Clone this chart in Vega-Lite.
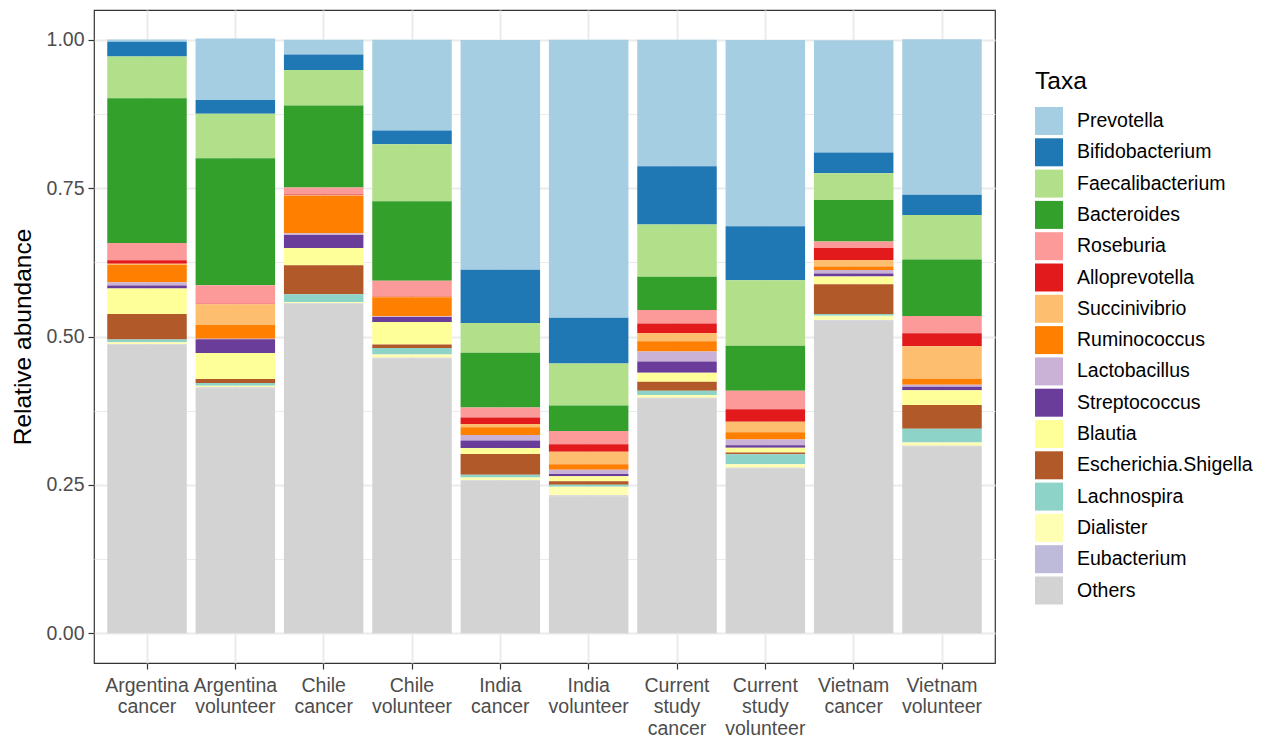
{
  "$schema": "https://vega.github.io/schema/vega-lite/v6.json",
  "width": 901,
  "height": 653,
  "autosize": {"type": "none"},
  "padding": {"left": 94, "top": 10, "right": 274, "bottom": 75},
  "background": "white",
  "config": {
    "font": "Liberation Sans",
    "view": {"stroke": "#333333", "strokeWidth": 1.2}
  },
  "data": {
    "values": [
      {"s": "Argentina cancer", "t": "Prevotella", "v": 0.004},
      {"s": "Argentina cancer", "t": "Bifidobacterium", "v": 0.025},
      {"s": "Argentina cancer", "t": "Faecalibacterium", "v": 0.070},
      {"s": "Argentina cancer", "t": "Bacteroides", "v": 0.244},
      {"s": "Argentina cancer", "t": "Roseburia", "v": 0.029},
      {"s": "Argentina cancer", "t": "Alloprevotella", "v": 0.006},
      {"s": "Argentina cancer", "t": "Succinivibrio", "v": 0.002},
      {"s": "Argentina cancer", "t": "Ruminococcus", "v": 0.029},
      {"s": "Argentina cancer", "t": "Lactobacillus", "v": 0.0056},
      {"s": "Argentina cancer", "t": "Streptococcus", "v": 0.005},
      {"s": "Argentina cancer", "t": "Blautia", "v": 0.043},
      {"s": "Argentina cancer", "t": "Escherichia.Shigella", "v": 0.043},
      {"s": "Argentina cancer", "t": "Lachnospira", "v": 0.0045},
      {"s": "Argentina cancer", "t": "Dialister", "v": 0.0034},
      {"s": "Argentina cancer", "t": "Eubacterium", "v": 0.001},
      {"s": "Argentina cancer", "t": "Others", "v": 0.486},

      {"s": "Argentina volunteer", "t": "Prevotella", "v": 0.104},
      {"s": "Argentina volunteer", "t": "Bifidobacterium", "v": 0.023},
      {"s": "Argentina volunteer", "t": "Faecalibacterium", "v": 0.075},
      {"s": "Argentina volunteer", "t": "Bacteroides", "v": 0.214},
      {"s": "Argentina volunteer", "t": "Roseburia", "v": 0.031},
      {"s": "Argentina volunteer", "t": "Alloprevotella", "v": 0.001},
      {"s": "Argentina volunteer", "t": "Succinivibrio", "v": 0.035},
      {"s": "Argentina volunteer", "t": "Ruminococcus", "v": 0.023},
      {"s": "Argentina volunteer", "t": "Lactobacillus", "v": 0.001},
      {"s": "Argentina volunteer", "t": "Streptococcus", "v": 0.023},
      {"s": "Argentina volunteer", "t": "Blautia", "v": 0.044},
      {"s": "Argentina volunteer", "t": "Escherichia.Shigella", "v": 0.0067},
      {"s": "Argentina volunteer", "t": "Lachnospira", "v": 0.0045},
      {"s": "Argentina volunteer", "t": "Dialister", "v": 0.003},
      {"s": "Argentina volunteer", "t": "Eubacterium", "v": 0.001},
      {"s": "Argentina volunteer", "t": "Others", "v": 0.413},

      {"s": "Chile cancer", "t": "Prevotella", "v": 0.025},
      {"s": "Chile cancer", "t": "Bifidobacterium", "v": 0.026},
      {"s": "Chile cancer", "t": "Faecalibacterium", "v": 0.060},
      {"s": "Chile cancer", "t": "Bacteroides", "v": 0.138},
      {"s": "Chile cancer", "t": "Roseburia", "v": 0.012},
      {"s": "Chile cancer", "t": "Alloprevotella", "v": 0.001},
      {"s": "Chile cancer", "t": "Succinivibrio", "v": 0.001},
      {"s": "Chile cancer", "t": "Ruminococcus", "v": 0.063},
      {"s": "Chile cancer", "t": "Lactobacillus", "v": 0.003},
      {"s": "Chile cancer", "t": "Streptococcus", "v": 0.022},
      {"s": "Chile cancer", "t": "Blautia", "v": 0.029},
      {"s": "Chile cancer", "t": "Escherichia.Shigella", "v": 0.049},
      {"s": "Chile cancer", "t": "Lachnospira", "v": 0.013},
      {"s": "Chile cancer", "t": "Dialister", "v": 0.002},
      {"s": "Chile cancer", "t": "Eubacterium", "v": 0.001},
      {"s": "Chile cancer", "t": "Others", "v": 0.555},

      {"s": "Chile volunteer", "t": "Prevotella", "v": 0.153},
      {"s": "Chile volunteer", "t": "Bifidobacterium", "v": 0.023},
      {"s": "Chile volunteer", "t": "Faecalibacterium", "v": 0.096},
      {"s": "Chile volunteer", "t": "Bacteroides", "v": 0.134},
      {"s": "Chile volunteer", "t": "Roseburia", "v": 0.026},
      {"s": "Chile volunteer", "t": "Alloprevotella", "v": 0.001},
      {"s": "Chile volunteer", "t": "Succinivibrio", "v": 0.001},
      {"s": "Chile volunteer", "t": "Ruminococcus", "v": 0.032},
      {"s": "Chile volunteer", "t": "Lactobacillus", "v": 0.001},
      {"s": "Chile volunteer", "t": "Streptococcus", "v": 0.0084},
      {"s": "Chile volunteer", "t": "Blautia", "v": 0.038},
      {"s": "Chile volunteer", "t": "Escherichia.Shigella", "v": 0.006},
      {"s": "Chile volunteer", "t": "Lachnospira", "v": 0.011},
      {"s": "Chile volunteer", "t": "Dialister", "v": 0.0056},
      {"s": "Chile volunteer", "t": "Eubacterium", "v": 0.001},
      {"s": "Chile volunteer", "t": "Others", "v": 0.463},

      {"s": "India cancer", "t": "Prevotella", "v": 0.387},
      {"s": "India cancer", "t": "Bifidobacterium", "v": 0.090},
      {"s": "India cancer", "t": "Faecalibacterium", "v": 0.050},
      {"s": "India cancer", "t": "Bacteroides", "v": 0.092},
      {"s": "India cancer", "t": "Roseburia", "v": 0.017},
      {"s": "India cancer", "t": "Alloprevotella", "v": 0.011},
      {"s": "India cancer", "t": "Succinivibrio", "v": 0.0056},
      {"s": "India cancer", "t": "Ruminococcus", "v": 0.013},
      {"s": "India cancer", "t": "Lactobacillus", "v": 0.009},
      {"s": "India cancer", "t": "Streptococcus", "v": 0.013},
      {"s": "India cancer", "t": "Blautia", "v": 0.010},
      {"s": "India cancer", "t": "Escherichia.Shigella", "v": 0.035},
      {"s": "India cancer", "t": "Lachnospira", "v": 0.0045},
      {"s": "India cancer", "t": "Dialister", "v": 0.0045},
      {"s": "India cancer", "t": "Eubacterium", "v": 0.001},
      {"s": "India cancer", "t": "Others", "v": 0.257},

      {"s": "India volunteer", "t": "Prevotella", "v": 0.468},
      {"s": "India volunteer", "t": "Bifidobacterium", "v": 0.077},
      {"s": "India volunteer", "t": "Faecalibacterium", "v": 0.071},
      {"s": "India volunteer", "t": "Bacteroides", "v": 0.043},
      {"s": "India volunteer", "t": "Roseburia", "v": 0.022},
      {"s": "India volunteer", "t": "Alloprevotella", "v": 0.013},
      {"s": "India volunteer", "t": "Succinivibrio", "v": 0.021},
      {"s": "India volunteer", "t": "Ruminococcus", "v": 0.009},
      {"s": "India volunteer", "t": "Lactobacillus", "v": 0.0073},
      {"s": "India volunteer", "t": "Streptococcus", "v": 0.004},
      {"s": "India volunteer", "t": "Blautia", "v": 0.0084},
      {"s": "India volunteer", "t": "Escherichia.Shigella", "v": 0.0056},
      {"s": "India volunteer", "t": "Lachnospira", "v": 0.0034},
      {"s": "India volunteer", "t": "Dialister", "v": 0.015},
      {"s": "India volunteer", "t": "Eubacterium", "v": 0.001},
      {"s": "India volunteer", "t": "Others", "v": 0.231},

      {"s": "Current study cancer", "t": "Prevotella", "v": 0.213},
      {"s": "Current study cancer", "t": "Bifidobacterium", "v": 0.098},
      {"s": "Current study cancer", "t": "Faecalibacterium", "v": 0.088},
      {"s": "Current study cancer", "t": "Bacteroides", "v": 0.056},
      {"s": "Current study cancer", "t": "Roseburia", "v": 0.023},
      {"s": "Current study cancer", "t": "Alloprevotella", "v": 0.016},
      {"s": "Current study cancer", "t": "Succinivibrio", "v": 0.014},
      {"s": "Current study cancer", "t": "Ruminococcus", "v": 0.017},
      {"s": "Current study cancer", "t": "Lactobacillus", "v": 0.017},
      {"s": "Current study cancer", "t": "Streptococcus", "v": 0.019},
      {"s": "Current study cancer", "t": "Blautia", "v": 0.015},
      {"s": "Current study cancer", "t": "Escherichia.Shigella", "v": 0.015},
      {"s": "Current study cancer", "t": "Lachnospira", "v": 0.0073},
      {"s": "Current study cancer", "t": "Dialister", "v": 0.0045},
      {"s": "Current study cancer", "t": "Eubacterium", "v": 0.001},
      {"s": "Current study cancer", "t": "Others", "v": 0.396},

      {"s": "Current study volunteer", "t": "Prevotella", "v": 0.314},
      {"s": "Current study volunteer", "t": "Bifidobacterium", "v": 0.091},
      {"s": "Current study volunteer", "t": "Faecalibacterium", "v": 0.110},
      {"s": "Current study volunteer", "t": "Bacteroides", "v": 0.076},
      {"s": "Current study volunteer", "t": "Roseburia", "v": 0.031},
      {"s": "Current study volunteer", "t": "Alloprevotella", "v": 0.021},
      {"s": "Current study volunteer", "t": "Succinivibrio", "v": 0.018},
      {"s": "Current study volunteer", "t": "Ruminococcus", "v": 0.012},
      {"s": "Current study volunteer", "t": "Lactobacillus", "v": 0.010},
      {"s": "Current study volunteer", "t": "Streptococcus", "v": 0.004},
      {"s": "Current study volunteer", "t": "Blautia", "v": 0.008},
      {"s": "Current study volunteer", "t": "Escherichia.Shigella", "v": 0.003},
      {"s": "Current study volunteer", "t": "Lachnospira", "v": 0.017},
      {"s": "Current study volunteer", "t": "Dialister", "v": 0.0056},
      {"s": "Current study volunteer", "t": "Eubacterium", "v": 0.001},
      {"s": "Current study volunteer", "t": "Others", "v": 0.278},

      {"s": "Vietnam cancer", "t": "Prevotella", "v": 0.189},
      {"s": "Vietnam cancer", "t": "Bifidobacterium", "v": 0.035},
      {"s": "Vietnam cancer", "t": "Faecalibacterium", "v": 0.045},
      {"s": "Vietnam cancer", "t": "Bacteroides", "v": 0.070},
      {"s": "Vietnam cancer", "t": "Roseburia", "v": 0.011},
      {"s": "Vietnam cancer", "t": "Alloprevotella", "v": 0.020},
      {"s": "Vietnam cancer", "t": "Succinivibrio", "v": 0.011},
      {"s": "Vietnam cancer", "t": "Ruminococcus", "v": 0.006},
      {"s": "Vietnam cancer", "t": "Lactobacillus", "v": 0.006},
      {"s": "Vietnam cancer", "t": "Streptococcus", "v": 0.005},
      {"s": "Vietnam cancer", "t": "Blautia", "v": 0.013},
      {"s": "Vietnam cancer", "t": "Escherichia.Shigella", "v": 0.050},
      {"s": "Vietnam cancer", "t": "Lachnospira", "v": 0.003},
      {"s": "Vietnam cancer", "t": "Dialister", "v": 0.007},
      {"s": "Vietnam cancer", "t": "Eubacterium", "v": 0.001},
      {"s": "Vietnam cancer", "t": "Others", "v": 0.527},

      {"s": "Vietnam volunteer", "t": "Prevotella", "v": 0.262},
      {"s": "Vietnam volunteer", "t": "Bifidobacterium", "v": 0.034},
      {"s": "Vietnam volunteer", "t": "Faecalibacterium", "v": 0.075},
      {"s": "Vietnam volunteer", "t": "Bacteroides", "v": 0.095},
      {"s": "Vietnam volunteer", "t": "Roseburia", "v": 0.029},
      {"s": "Vietnam volunteer", "t": "Alloprevotella", "v": 0.022},
      {"s": "Vietnam volunteer", "t": "Succinivibrio", "v": 0.055},
      {"s": "Vietnam volunteer", "t": "Ruminococcus", "v": 0.010},
      {"s": "Vietnam volunteer", "t": "Lactobacillus", "v": 0.0034},
      {"s": "Vietnam volunteer", "t": "Streptococcus", "v": 0.0056},
      {"s": "Vietnam volunteer", "t": "Blautia", "v": 0.025},
      {"s": "Vietnam volunteer", "t": "Escherichia.Shigella", "v": 0.040},
      {"s": "Vietnam volunteer", "t": "Lachnospira", "v": 0.023},
      {"s": "Vietnam volunteer", "t": "Dialister", "v": 0.0056},
      {"s": "Vietnam volunteer", "t": "Eubacterium", "v": 0.001},
      {"s": "Vietnam volunteer", "t": "Others", "v": 0.315}
    ]
  },
  "transform": [
    {"calculate": "indexof(['Prevotella','Bifidobacterium','Faecalibacterium','Bacteroides','Roseburia','Alloprevotella','Succinivibrio','Ruminococcus','Lactobacillus','Streptococcus','Blautia','Escherichia.Shigella','Lachnospira','Dialister','Eubacterium','Others'], datum.t)", "as": "rank"}
  ],
  "mark": {"type": "bar", "strokeWidth": 0},
  "encoding": {
    "x": {
      "field": "s",
      "type": "nominal",
      "sort": ["Argentina cancer", "Argentina volunteer", "Chile cancer", "Chile volunteer", "India cancer", "India volunteer", "Current study cancer", "Current study volunteer", "Vietnam cancer", "Vietnam volunteer"],
      "scale": {"paddingInner": 0.1, "paddingOuter": 0.15},
      "axis": {
        "title": null,
        "labelAngle": 0,
        "labelExpr": "split(datum.label, ' ')",
        "labelFont": "Liberation Sans",
        "labelFontSize": 19.5,
        "labelColor": "#4D4D4D",
        "labelLineHeight": 21.5,
        "labelPadding": 7,
        "labelBaseline": "top",
        "tickColor": "#333333",
        "tickSize": 6,
        "tickWidth": 1.2,
        "bandPosition": 0.5,
        "domain": false,
        "grid": true,
        "gridColor": "#EBEBEB",
        "gridWidth": 2
      }
    },
    "y": {
      "field": "v",
      "type": "quantitative",
      "stack": "zero",
      "scale": {"domain": [-0.05, 1.05], "nice": false, "zero": false},
      "axis": {
        "title": "Relative abundance",
        "titleFont": "Liberation Sans",
        "titleFontSize": 24.5,
        "titleFontWeight": "normal",
        "titleColor": "#000000",
        "titlePadding": 11,
        "values": [0, 0.125, 0.25, 0.375, 0.5, 0.625, 0.75, 0.875, 1],
        "labelExpr": "(datum.value * 8) % 2 == 0 ? format(datum.value, '.2f') : ''",
        "labelFont": "Liberation Sans",
        "labelFontSize": 19.5,
        "labelColor": "#4D4D4D",
        "labelPadding": 4,
        "tickColor": "#333333",
        "tickSize": 6,
        "tickWidth": 1.2,
        "tickOpacity": {"condition": {"test": "(datum.value * 8) % 2 != 0", "value": 0}, "value": 1},
        "domain": false,
        "grid": true,
        "gridColor": "#EBEBEB",
        "gridWidth": {"condition": {"test": "(datum.value * 8) % 2 != 0", "value": 1}, "value": 2}
      }
    },
    "color": {
      "field": "t",
      "type": "nominal",
      "scale": {
        "domain": ["Prevotella", "Bifidobacterium", "Faecalibacterium", "Bacteroides", "Roseburia", "Alloprevotella", "Succinivibrio", "Ruminococcus", "Lactobacillus", "Streptococcus", "Blautia", "Escherichia.Shigella", "Lachnospira", "Dialister", "Eubacterium", "Others"],
        "range": ["#A6CEE3", "#1F78B4", "#B2DF8A", "#33A02C", "#FB9A99", "#E31A1C", "#FDBF6F", "#FF7F00", "#CAB2D6", "#6A3D9A", "#FFFF99", "#B15928", "#8DD3C7", "#FFFFB3", "#BEBADA", "#D3D3D3"]
      },
      "legend": {
        "title": "Taxa",
        "orient": "none",
        "legendX": 941,
        "legendY": 60,
        "titleFont": "Liberation Sans",
        "titleFontSize": 24.5,
        "titleFontWeight": "normal",
        "titleColor": "#000000",
        "titlePadding": 12.5,
        "symbolType": "square",
        "symbolSize": 784,
        "symbolStrokeWidth": 0,
        "symbolOpacity": 1,
        "labelFont": "Liberation Sans",
        "labelFontSize": 19.5,
        "labelColor": "#000000",
        "labelLimit": 400,
        "labelOffset": 14,
        "rowPadding": 3.3,
        "padding": 0
      }
    },
    "order": {"field": "rank", "type": "quantitative", "sort": "descending"}
  }
}
